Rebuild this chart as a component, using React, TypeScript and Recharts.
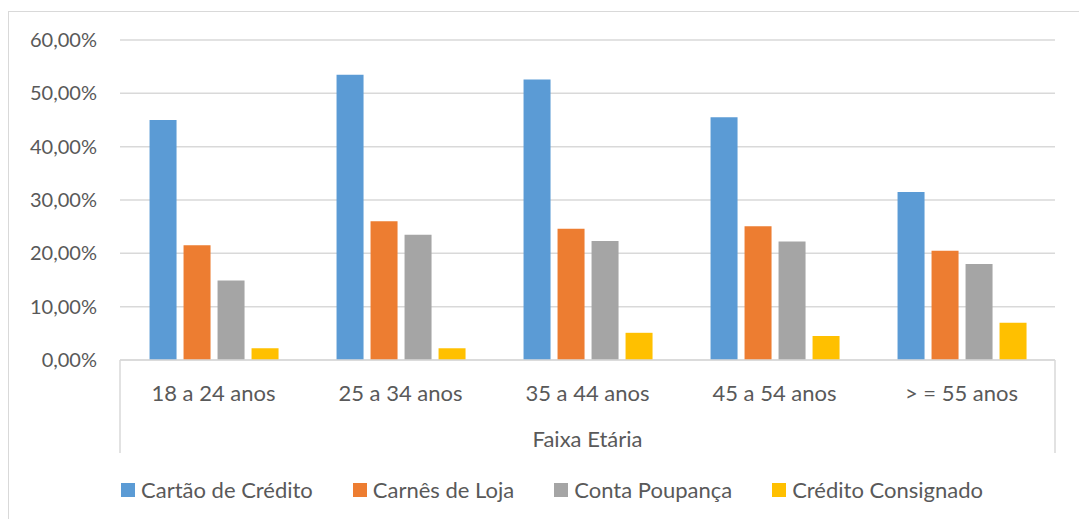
import React from 'react';
import { BarChart, Bar, XAxis, YAxis, CartesianGrid, Legend, usePlotArea } from 'recharts';

const faixas = ['18 a 24 anos', '25 a 34 anos', '35 a 44 anos', '45 a 54 anos', '> = 55 anos'];

const cartaoCredito = [45.0, 53.5, 52.6, 45.5, 31.5];
const carnesLoja = [21.5, 26.0, 24.6, 25.1, 20.5];
const contaPoupanca = [14.9, 23.5, 22.3, 22.2, 18.0];
const creditoConsignado = [2.2, 2.2, 5.1, 4.5, 7.0];

const yTicks = [0, 10, 20, 30, 40, 50, 60];

const series = [
  { key: 'cartao', name: 'Cartão de Crédito', color: '#5B9BD5' },
  { key: 'carnes', name: 'Carnês de Loja', color: '#ED7D31' },
  { key: 'poupanca', name: 'Conta Poupança', color: '#A5A5A5' },
  { key: 'consignado', name: 'Crédito Consignado', color: '#FFC000' },
];

const data = faixas.map((faixa, i) => ({
  faixa,
  cartao: cartaoCredito[i],
  carnes: carnesLoja[i],
  poupanca: contaPoupanca[i],
  consignado: creditoConsignado[i],
}));

const FONT = 'Lato, sans-serif';
const FS = 22;
const TEXT = '#595959';
const GRID = '#D9D9D9';

const pct = (v: number) => `${v.toFixed(2).replace('.', ',')}%`;

// side walls of the category axis box
const AxisBox = () => {
  const plot = usePlotArea();
  if (!plot) return null;
  const y0 = plot.y + plot.height;
  const x0 = plot.x;
  const x1 = plot.x + plot.width;
  return (
    <g>
      <line x1={x0} y1={y0} x2={x0} y2={y0 + 93} stroke={GRID} strokeWidth={1.5} />
      <line x1={x1} y1={y0} x2={x1} y2={y0 + 93} stroke={GRID} strokeWidth={1.5} />
    </g>
  );
};

const CategoryTick = (props: any) => {
  const { x, y, payload } = props;
  return (
    <text x={x} y={y + 30} textAnchor="middle" dominantBaseline="central" fill={TEXT} fontSize={FS} fontFamily={FONT}>
      {payload.value}
    </text>
  );
};

const LegendContent = () => (
  <div style={{ display: 'flex', gap: 40, paddingLeft: 121, fontFamily: FONT, fontSize: FS, color: TEXT, lineHeight: '24px' }}>
    {series.map((s) => (
      <div key={s.key} style={{ display: 'flex', alignItems: 'center' }}>
        <span style={{ width: 14, height: 14, background: s.color, marginRight: 6 }} />
        <span>{s.name}</span>
      </div>
    ))}
  </div>
);

export default function App() {
  return (
    <div style={{ position: 'absolute', left: 0, top: 0, width: 1079, height: 519, overflow: 'hidden', background: '#fff' }}>
      <div style={{ position: 'absolute', left: 8, top: 11, width: 1120, height: 560, border: `1.5px solid ${GRID}` }} />
      <div style={{ position: 'absolute', left: 0, top: 0 }}>
        <BarChart
          width={1079}
          height={519}
          data={data}
          margin={{ top: 40, right: 24, left: 0, bottom: 66 }}
          barCategoryGap="15.8%"
          barGap={7}
        >
          <CartesianGrid vertical={false} stroke={GRID} strokeWidth={1.5} />
          <XAxis
            dataKey="faixa"
            height={93}
            tickLine={false}
            tickSize={0}
            axisLine={{ stroke: GRID, strokeWidth: 1.5 }}
            tick={<CategoryTick />}
            interval={0}
            label={{ value: 'Faixa Etária', position: 'insideBottom', offset: 6, fill: TEXT, fontSize: FS, fontFamily: FONT }}
          />
          <YAxis
            width={120}
            domain={[0, 60]}
            ticks={yTicks}
            tickFormatter={pct}
            tickLine={false}
            tickSize={0}
            tickMargin={23}
            axisLine={false}
            tick={{ fill: TEXT, fontSize: 20, fontFamily: FONT }}
          />
          {series.map((s) => (
            <Bar key={s.key} dataKey={s.key} name={s.name} fill={s.color} isAnimationActive={false} />
          ))}
          <Legend
            verticalAlign="middle"
            align="center"
            content={<LegendContent />}
            wrapperStyle={{ top: 478, left: 0, width: 1079 }}
          />
          <AxisBox />
        </BarChart>
      </div>
    </div>
  );
}
